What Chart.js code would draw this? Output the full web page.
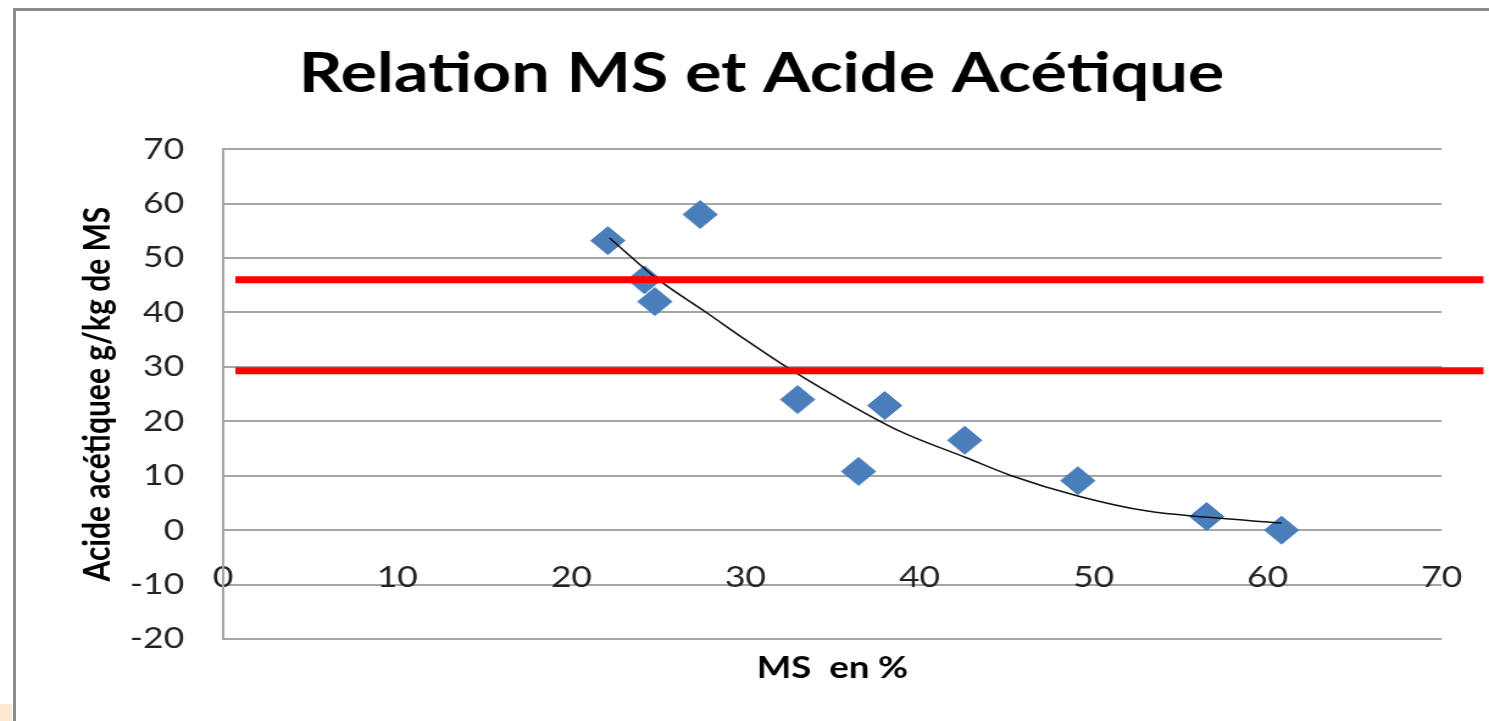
<!DOCTYPE html>
<html>
<head>
<meta charset="utf-8">
<script src="https://cdn.jsdelivr.net/npm/chart.js@4/dist/chart.umd.min.js"></script>
<style>
  html, body { margin: 0; padding: 0; background: #fff; overflow: hidden; }
  #frame {
    position: absolute; left: 13px; top: 8px; width: 2000px; height: 2000px;
    border-left: 3px solid #8c8c8c; border-top: 3px solid #8c8c8c;
  }
  #corner { position: absolute; left: 0; top: 704px; width: 12px; height: 17px; background: #fde9d3; }
  #chart { position: absolute; left: 0; top: 0; transform: scaleX(1.21949); transform-origin: 0 0; }
</style>
</head>
<body>
<div id="frame"></div>
<div id="corner"></div>
<canvas id="chart" width="1221" height="721"></canvas>
<script>
// MS (%) and acetic acid (g/kg MS)
const msValues = [22.1, 24.2, 24.8, 27.4, 33.0, 36.5, 38.0, 42.6, 49.1, 56.5, 60.8];
const acideValues = [53.2, 46.0, 42.0, 58.0, 24.0, 10.8, 22.9, 16.5, 9.1, 2.5, 0];

// trend curve as traced on the picture
const trendX = [22.2, 24.8, 27.8, 30, 32.4, 35, 38.8, 42.7, 45.2, 49.2, 53.1, 56.4, 60.8];
const trendY = [53.7, 46.5, 39.9, 35.0, 29.9, 24.9, 18.3, 13.3, 10.1, 6.2, 3.5, 2.4, 1.3];

// red threshold lines
const seuils = [46.0, 29.3];
const seuilX = [0.7, 72.4];

const xMin = 0, xMax = 70, xStep = 10;
const yMin = -20, yMax = 70, yStep = 10;

const toPoints = (xs, ys) => xs.map((x, i) => ({ x: x, y: ys[i] }));

const seuilSets = seuils.map(v => ({
    data: seuilX.map(x => ({ x: x, y: v })),
    showLine: true,
    borderColor: '#ff0000',
    borderWidth: 7,
    pointRadius: 0,
    clip: false
}));

const ctx = document.getElementById('chart').getContext('2d');
const chart = new Chart(ctx, {
    type: 'scatter',
    data: {
        datasets: [
            ...seuilSets,
            {
                data: toPoints(trendX, trendY),
                showLine: true,
                borderColor: '#111',
                borderWidth: 1.5,
                pointRadius: 0,
                cubicInterpolationMode: 'monotone'
            },
            {
                data: toPoints(msValues, acideValues),
                pointStyle: 'rectRot',
                pointRadius: 14,
                backgroundColor: '#4a7ebb',
                borderColor: '#4a7ebb',
                borderWidth: 1
            }
        ]
    },
    options: {
        responsive: false,
        animation: false,
        layout: { padding: { left: 28, right: 0, top: 0, bottom: 0 } },
        scales: {
            x: {
                type: 'linear',
                position: { y: 0 },
                min: xMin,
                max: xMax,
                grid: { display: false },
                border: { display: false },
                ticks: {
                    stepSize: xStep,
                    padding: 22,
                    color: '#222',
                    font: { family: 'Lato', size: 29 }
                }
            },
            x2: {
                type: 'linear',
                position: 'bottom',
                min: xMin,
                max: xMax,
                grid: { display: false },
                border: { display: false },
                ticks: { display: false },
                title: {
                    display: true,
                    text: 'MS  en %',
                    color: '#000',
                    padding: { top: 0, bottom: 35 },
                    font: { family: 'Lato', size: 30, weight: 'bold' }
                },
                afterFit: function(scale) { scale.height = 82; }
            },
            y: {
                type: 'linear',
                position: 'left',
                min: yMin,
                max: yMax,
                grid: { color: '#a6a6a6', lineWidth: 2, drawTicks: false },
                border: { display: true, color: '#a6a6a6', width: 2 },
                ticks: {
                    stepSize: yStep,
                    padding: 32,
                    color: '#222',
                    font: { family: 'Lato', size: 29 }
                },
                title: {
                    display: true,
                    text: 'Acide acétiquee g/kg de MS',
                    color: '#000',
                    padding: { top: 34, bottom: 0 },
                    font: { family: 'Lato', size: 30, weight: 'bold' }
                },
                afterFit: function(scale) { scale.width = 155; }
            },
            y2: {
                type: 'linear',
                position: 'right',
                min: yMin,
                max: yMax,
                grid: { display: false },
                border: { display: false },
                ticks: { display: false },
                afterFit: function(scale) { scale.width = 30; }
            }
        },
        plugins: {
            legend: { display: false },
            tooltip: { enabled: false },
            title: {
                display: true,
                text: 'Relation MS et Acide Acétique',
                color: '#000',
                padding: { top: 40, bottom: 42 },
                font: { family: 'Lato', size: 56, weight: 'bold' }
            }
        }
    }
});
</script>
</body>
</html>
